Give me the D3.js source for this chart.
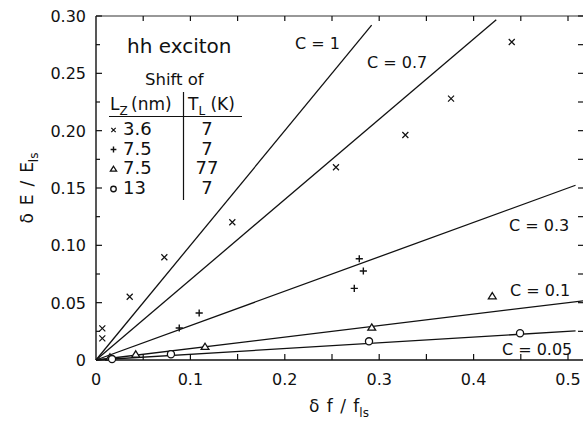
<!DOCTYPE html>
<html>
<head>
<meta charset="utf-8">
<script src="https://cdn.jsdelivr.net/npm/d3@7"></script>
<style>
  html, body { margin: 0; padding: 0; background: #fff; }
  svg { display: block; font-family: "DejaVu Sans", sans-serif; }
  text { fill: #111; }
</style>
</head>
<body>
<svg id="chart" width="583" height="425"></svg>
<script>
// Measured exciton energy shift vs. relative oscillator-strength shift
const crossF  = [0.0067, 0.0067, 0.0357, 0.0724, 0.1444, 0.2542, 0.3277, 0.3761, 0.4404];
const crossE  = [0.0276, 0.0189, 0.0552, 0.0896, 0.1201, 0.1681, 0.1962, 0.2279, 0.2773];
const plusF   = [0.0882, 0.1093, 0.2789, 0.2832, 0.2736];
const plusE   = [0.0279, 0.0410, 0.0883, 0.0776, 0.0625];
const triF    = [0.0148, 0.0421, 0.1155, 0.2921, 0.4198];
const triE    = [0.0024, 0.0050, 0.0116, 0.0285, 0.0558];
const circF   = [0.0170, 0.0794, 0.2892, 0.4492];
const circE   = [0.0008, 0.0050, 0.0163, 0.0233];

// Reference lines dE/E = C * df/f, each drawn up to its end point in f
const lineC    = [1, 0.7, 0.3, 0.1, 0.05];
const lineEndF = [0.292, 0.424, 0.508, 0.516, 0.508];
const lineLabels = ["C = 1", "C = 0.7", "C = 0.3", "C = 0.1", "C = 0.05"];

// Axis ticks
const xTickLabels = ["0", "0.1", "0.2", "0.3", "0.4", "0.5"];
const yTickLabels = ["0", "0.05", "0.10", "0.15", "0.20", "0.25", "0.30"];

// Legend table rows
const legendSymbols = ["cross", "plus", "tri", "circ"];
const legendLz = ["3.6", "7.5", "7.5", "13"];
const legendTl = ["7", "7", "77", "7"];

const svg = d3.select("#chart");
const padL = 96, padR = 583, padT = 16, padB = 360;
const x = d3.scaleLinear().domain([0, 0.5]).range([padL, 568]);
const y = d3.scaleLinear().domain([0, 0.30]).range([padB, padT]);

// marker drawing
function drawSymbol(g, type, cx, cy, s) {
  if (type === "cross") {
    g.append("path").attr("d", `M${cx - s},${cy - s}L${cx + s},${cy + s}M${cx - s},${cy + s}L${cx + s},${cy - s}`)
      .attr("stroke", "#111").attr("stroke-width", 1.2).attr("fill", "none");
  } else if (type === "plus") {
    const p = s * 1.2;
    g.append("path").attr("d", `M${cx - p},${cy}L${cx + p},${cy}M${cx},${cy - p}L${cx},${cy + p}`)
      .attr("stroke", "#111").attr("stroke-width", 1.4).attr("fill", "none");
  } else if (type === "tri") {
    const w = s * 1.3, h = s * 1.15;
    g.append("path").attr("d", `M${cx},${cy - h}L${cx + w},${cy + h * 0.8}L${cx - w},${cy + h * 0.8}Z`)
      .attr("stroke", "#111").attr("stroke-width", 1.3).attr("fill", "#fff");
  } else {
    g.append("circle").attr("cx", cx).attr("cy", cy).attr("r", s * 1.15)
      .attr("stroke", "#111").attr("stroke-width", 1.3).attr("fill", "#fff");
  }
}

// frame: left, bottom, top; right edge lies at the window border
const frame = svg.append("g").attr("stroke", "#111").attr("fill", "none");
frame.append("line").attr("x1", padL).attr("x2", padL).attr("y1", padT).attr("y2", padB).attr("stroke-width", 1.4);
frame.append("line").attr("x1", padL).attr("x2", padR).attr("y1", padB).attr("y2", padB).attr("stroke-width", 1.6);
frame.append("line").attr("x1", padL).attr("x2", padR).attr("y1", padT).attr("y2", padT).attr("stroke-width", 1.1).attr("stroke", "#333");

// ticks
const xt = d3.range(0.05, 0.5001, 0.05);
const yt = d3.range(0.025, 0.3001, 0.025);
const isMajorY = v => Math.abs(v / 0.05 - Math.round(v / 0.05)) < 1e-6;
const ticks = svg.append("g").attr("stroke", "#111").attr("stroke-width", 1.2);
xt.forEach(v => {
  ticks.append("line").attr("x1", x(v)).attr("x2", x(v)).attr("y1", padB).attr("y2", padB - 6);
  ticks.append("line").attr("x1", x(v)).attr("x2", x(v)).attr("y1", padT).attr("y2", padT + 5);
});
yt.forEach(v => {
  const len = isMajorY(v) ? 6 : 4;
  ticks.append("line").attr("x1", padL).attr("x2", padL + len).attr("y1", y(v)).attr("y2", y(v));
  ticks.append("line").attr("x1", padR).attr("x2", padR - 5).attr("y1", y(v)).attr("y2", y(v));
});

// tick labels
xTickLabels.forEach(t => {
  svg.append("text").attr("x", x(+t)).attr("y", 385).attr("text-anchor", "middle")
    .attr("font-size", 16).text(t);
});
yTickLabels.forEach(t => {
  svg.append("text").attr("x", 86).attr("y", y(+t) + 6).attr("text-anchor", "end")
    .attr("font-size", 16).text(t);
});

// axis titles
const xTitle = svg.append("text").attr("x", 339).attr("y", 412).attr("text-anchor", "middle")
  .attr("font-size", 17).attr("word-spacing", 2);
xTitle.append("tspan").text("δ f / f");
xTitle.append("tspan").attr("font-size", 12).attr("dy", 5).text("ls");

const yTitle = svg.append("text").attr("transform", "translate(33,188) rotate(-90)").attr("text-anchor", "middle")
  .attr("font-size", 17).attr("word-spacing", 2.5);
yTitle.append("tspan").text("δ E / E");
yTitle.append("tspan").attr("font-size", 12).attr("dy", 5).text("ls");

// reference lines
const line = d3.line().x(d => x(d[0])).y(d => y(d[1]));
lineC.forEach((c, i) => {
  const fEnd = lineEndF[i];
  svg.append("path").datum([[0, 0], [fEnd, c * fEnd]]).attr("d", line)
    .attr("stroke", "#111").attr("stroke-width", 1.3).attr("fill", "none");
});

// line labels, placed in data units
const labelF = [0.2108, 0.2871, 0.4375, 0.4386, 0.430];
const labelE = [0.2712, 0.2546, 0.1125, 0.0558, 0.0044];
lineLabels.forEach((t, i) => {
  svg.append("text").attr("x", x(labelF[i])).attr("y", y(labelE[i]))
    .attr("font-size", 16).text(t);
});

// data points
const pts = svg.append("g");
crossF.forEach((f, i) => drawSymbol(pts, "cross", x(f), y(crossE[i]), 3));
plusF.forEach((f, i) => drawSymbol(pts, "plus", x(f), y(plusE[i]), 3));
triF.forEach((f, i) => drawSymbol(pts, "tri", x(f), y(triE[i]), 3));
circF.forEach((f, i) => drawSymbol(pts, "circ", x(f), y(circE[i]), 3.1));

// title and legend table
svg.append("text").attr("x", 127).attr("y", 53).attr("font-size", 20).text("hh exciton");
svg.append("text").attr("x", 145).attr("y", 85).attr("font-size", 16.5).text("Shift of");

const hL = svg.append("text").attr("x", 110).attr("y", 110).attr("font-size", 17);
hL.append("tspan").text("L");
hL.append("tspan").attr("font-size", 12).attr("dy", 5).text("Z");
hL.append("tspan").attr("dy", -5).text("\u2009(nm)");

const hT = svg.append("text").attr("x", 188).attr("y", 110).attr("font-size", 17);
hT.append("tspan").text("T");
hT.append("tspan").attr("font-size", 12).attr("dy", 5).text("L");
hT.append("tspan").attr("dy", -5).text(" (K)");

svg.append("line").attr("x1", 109).attr("x2", 242).attr("y1", 116.5).attr("y2", 116.5)
  .attr("stroke", "#111").attr("stroke-width", 1.2);
svg.append("line").attr("x1", 183.5).attr("x2", 183.5).attr("y1", 92).attr("y2", 200)
  .attr("stroke", "#111").attr("stroke-width", 1.2);

const rowBase = [135, 154.5, 174, 194];
const leg = svg.append("g");
legendSymbols.forEach((s, i) => {
  drawSymbol(leg, s, 113.5, rowBase[i] - 5, s === "cross" ? 2.2 : 2.4);
  svg.append("text").attr("x", 123).attr("y", rowBase[i]).attr("font-size", 18).text(legendLz[i]);
  svg.append("text").attr("x", 207).attr("y", rowBase[i]).attr("text-anchor", "middle").attr("font-size", 18).text(legendTl[i]);
});
</script>
</body>
</html>
